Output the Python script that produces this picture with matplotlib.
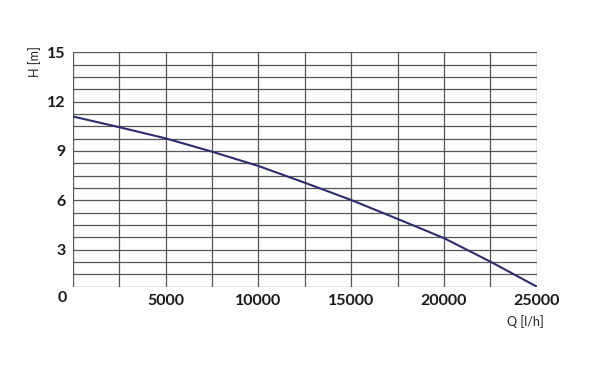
"""Pump curve H(Q) redrawn from the reference."""

import matplotlib

matplotlib.use("Agg")
import matplotlib.pyplot as plt
import numpy as np

# flow [l/h] and head [m]
flow = [0, 2500, 5000, 7500, 10000, 12500, 15000, 17500, 20000, 22500, 25000]
head = [11.1, 10.45, 9.77, 8.96, 8.09, 7.07, 6.02, 4.87, 3.7, 2.27, 0.75]

x_labels = ["5000", "10000", "15000", "20000", "25000"]
y_labels = ["3", "6", "9", "12", "15"]

plt.rcParams["font.family"] = ["Lato", "DejaVu Sans"]

fig = plt.figure(figsize=(5.9, 3.72), dpi=100)
ax = fig.add_axes([0.1232, 0.2293, 0.910 - 0.1232, 0.8594 - 0.2293])

ax.set_xlim(0, 25000)
ax.set_ylim(0.75, 15)

# grid: vertical every 2500, horizontal every 0.75
for q in np.arange(0, 25001, 2500):
    ax.axvline(q, color="#555555", linewidth=0.9, zorder=1)
for h in np.arange(0.75, 15.01, 0.75):
    ax.axhline(h, color="#555555", linewidth=0.9, zorder=1)

ax.plot(flow, head, color="#2e2c6e", linewidth=1.5, zorder=3)

for side in ax.spines.values():
    side.set_visible(False)

ax.set_xticks([5000, 10000, 15000, 20000, 25000])
ax.set_xticklabels(x_labels)
ax.set_yticks([3, 6, 9, 12, 15])
ax.set_yticklabels(y_labels)
ax.tick_params(length=0, labelsize=11.5, pad=5, colors="#1a1a1a")
for lbl in ax.get_xticklabels() + ax.get_yticklabels():
    lbl.set_fontweight("bold")

# shared origin label
ax.text(-0.022, -0.05, "0", transform=ax.transAxes, ha="center", va="center",
        fontsize=11.5, fontweight="bold", color="#1a1a1a")

fig.text(35 / 590, 1 - 62 / 372, "H [m]", rotation=90, ha="center", va="center",
         fontsize=9, color="#222222")
fig.text(525 / 590, 1 - 322 / 372, "Q [l/h]", ha="center", va="center",
         fontsize=9, color="#222222")

fig.savefig("out.png", dpi=100)
